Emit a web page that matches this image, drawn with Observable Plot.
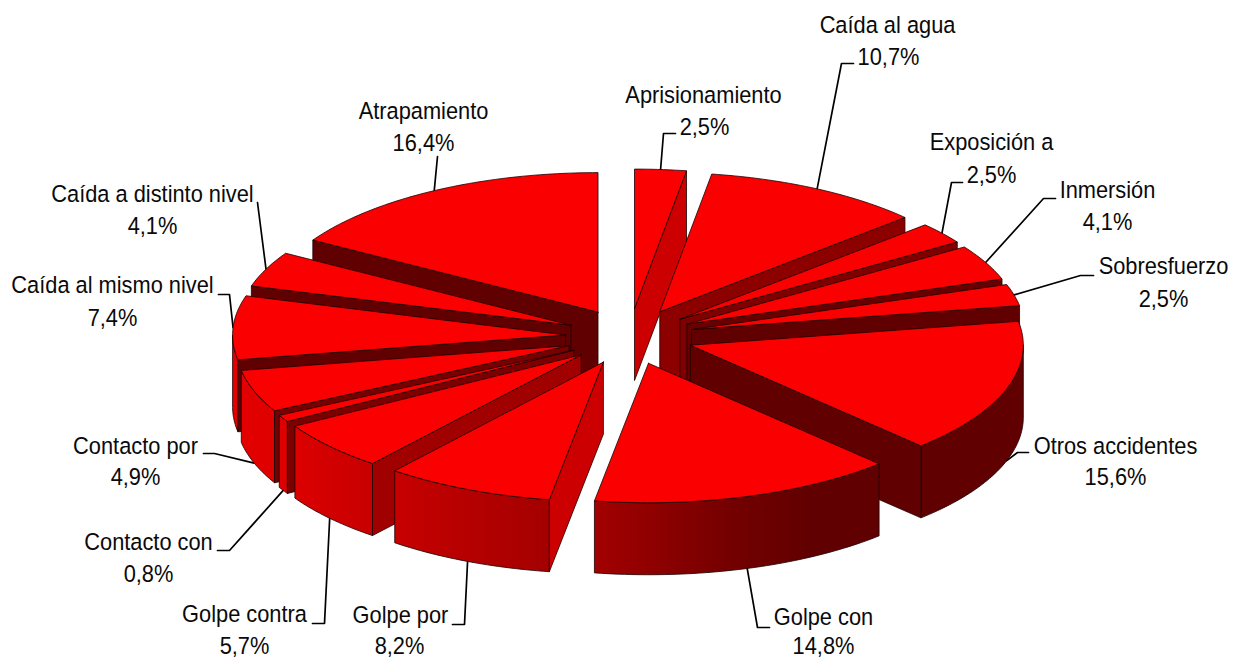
<!DOCTYPE html>
<html lang="es">
<head>
<meta charset="utf-8">
<style>html,body{margin:0;padding:0;background:#fff}svg{display:block}</style>
<script src="https://cdn.jsdelivr.net/npm/d3@7"></script>
<script src="https://cdn.jsdelivr.net/npm/@observablehq/plot@0.6"></script>
</head>
<body>
<div id="chart"></div>
<script>
// ---- data (clockwise from 12 o'clock) ----
const categories = ["Aprisionamiento","Caída al agua","Exposición a","Inmersión","Sobresfuerzo","Otros accidentes","Golpe con","Golpe por","Golpe contra","Contacto con","Contacto por","Caída al mismo nivel","Caída a distinto nivel","Atrapamiento"];
const percents = [2.5,10.7,2.5,4.1,2.5,15.6,14.8,8.2,5.7,0.8,4.9,7.4,4.1,16.4];
const percentLabels = ["2,5%","10,7%","2,5%","4,1%","2,5%","15,6%","14,8%","8,2%","5,7%","0,8%","4,9%","7,4%","4,1%","16,4%"];

// ---- layout of the labels: name x, name baseline, percent x, percent baseline ----
const labelAt = [[703,102,704,134],[887,32,888,64],[991,149,991,182],[1107,197,1107,229],[1163,273,1163,306],[1115,453,1115,484],[823,624,823,653],[400,622,399,653],[244,621,244,653],[148,549,148,581],[135,453,135,484],[112,292,112,325],[152,201,152,233],[423,118,423,150]];
// ---- leader elbows, from the pie outwards ----
const elbows = [[[663,133],[675,133]],[[841,63],[853,63]],[[951,182],[962,182]],[[1043,198],[1055,198]],[[1080,275],[1093,275]],[[1017,452],[1028,452]],[[757,627],[769,627]],[[464,624],[452,624]],[[324,623],[312,623]],[[229,550],[217,550]],[[214,453],[203,453]],[[229,294],[218,294]],[[257,202]],[[437,156]]];

// ---- pie geometry ----
const cx = 629, cy = 336, rx = 333, ry = 139.5, wall = 72, explodeX = 64, explodeY = 28;
const rad = d => d * Math.PI / 180;
const total = d3.sum(percents);
const cumulative = d3.cumsum(percents);
const slices = percents.map((v, i) => {
  const a0 = (cumulative[i] - v) / total * 360, a1 = cumulative[i] / total * 360, mid = (a0 + a1) / 2;
  return {i, a0, a1, mid, ax: cx + explodeX * Math.sin(rad(mid)), ay: cy - explodeY * Math.cos(rad(mid))};
});
const rim = (s, a, dy = 0) => ({x: s.ax + rx * Math.sin(rad(a)), y: s.ay - ry * Math.cos(rad(a)) + dy});
const apex = (s, dy = 0) => ({x: s.ax, y: s.ay + dy});
const faceRed = d3.scaleLinear([0.17,0.32,0.55,0.68,0.98],[96,104,128,140,204]).clamp(true);
const wallRed = d3.scaleLinear([150,165,190,219,240,262],[96,115,165,200,222,228]).clamp(true);
const red = r => `rgb(${Math.round(r)},0,0)`;
const topFill = "#fa0000", edge = "#1c0000";

const defs = d3.create("svg:defs");
const polygons = [];
function addPoly(points, fill) { polygons.push({points: [...points, points[0]], fill}); }

for (const s of [...slices].sort((p, q) => Math.cos(rad(q.mid)) - Math.cos(rad(p.mid)))) {
  const steps = (a, b) => d3.range(a, b, 1).concat(b);
  // outer wall
  const w0 = Math.max(s.a0, 90), w1 = Math.min(s.a1, 270);
  if (w1 > w0) {
    const top = steps(w0, w1).map(a => rim(s, a));
    const bottom = steps(w0, w1).map(a => rim(s, a, wall)).reverse();
    const xs = top.map(p => p.x), x0 = d3.min(xs), x1 = d3.max(xs);
    const g = defs.append("linearGradient").attr("id", `wall${s.i}`).attr("x1", 0).attr("x2", 1).attr("y1", 0).attr("y2", 0);
    steps(w0, w1).reverse().forEach(a => {
      g.append("stop").attr("offset", (rim(s, a).x - x0) / (x1 - x0 || 1)).attr("stop-color", red(wallRed(a)));
    });
    addPoly([...top, ...bottom], `url(#wall${s.i})`);
  }
  // radial faces
  if (Math.sin(rad(s.a0)) < 0) addPoly([apex(s), rim(s, s.a0), rim(s, s.a0, wall), apex(s, wall)], red(faceRed(-Math.cos(rad(s.a0)))));
  if (Math.sin(rad(s.a1)) > 0) addPoly([apex(s), rim(s, s.a1), rim(s, s.a1, wall), apex(s, wall)], red(faceRed(Math.cos(rad(s.a1)))));
  // top
  addPoly([apex(s), ...steps(s.a0, s.a1).map(a => rim(s, a))], topFill);
}

const leaders = slices.flatMap(s => {
  const front = s.mid > 90 && s.mid < 270;
  const start = rim(s, s.mid, front ? wall : 0);
  return [start, ...elbows[s.i].map(([x, y]) => ({x, y}))].map(p => ({...p, id: s.i}));
});
const names = categories.map((name, i) => ({name, x: labelAt[i][0], y: labelAt[i][1]}));
const pcts = percentLabels.map((name, i) => ({name, x: labelAt[i][2], y: labelAt[i][3]}));
const textStyle = {x: "x", y: "y", text: "name", textAnchor: "middle", lineAnchor: "bottom", fontFamily: "Liberation Sans", fontSize: 24.5, fill: "#0a0a0a"};

const chart = Plot.plot({
  width: 1240, height: 659, margin: 0,
  x: {axis: null, domain: [0, 1240], range: [0, 1240]},
  y: {axis: null, domain: [0, 659], range: [0, 659]},
  style: {background: "#fff"},
  marks: [
    () => defs.node(),
    Plot.line(leaders, {x: "x", y: "y", z: "id", stroke: "#000", strokeWidth: 1.7}),
    ...polygons.map(p => Plot.line(p.points, {x: "x", y: "y", fill: p.fill, stroke: edge, strokeWidth: 0.8})),
    Plot.text(names, textStyle),
    Plot.text(pcts, textStyle)
  ]
});
d3.select(chart).selectAll("text[transform]").attr("transform", function () {
  return this.getAttribute("transform") + " scale(0.89,1)";
});
document.getElementById("chart").append(chart);
</script>
</body>
</html>
